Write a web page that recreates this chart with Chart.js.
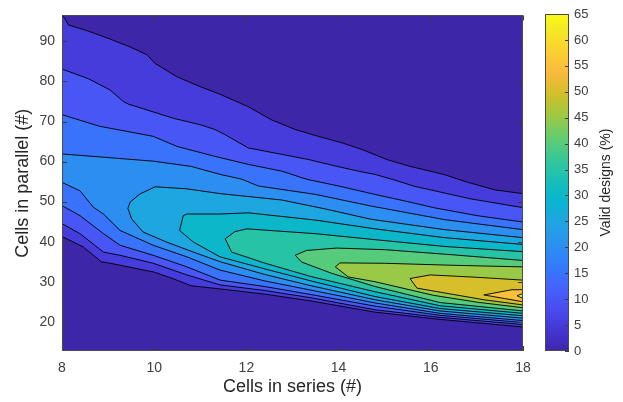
<!DOCTYPE html>
<html>
<head>
<meta charset="utf-8">
<script src="https://cdn.jsdelivr.net/npm/chart.js@4.4.1/dist/chart.umd.min.js"></script>
<style>
  html, body { margin: 0; padding: 0; background: #ffffff; }
  #wrap { position: relative; width: 623px; height: 402px; overflow: hidden; }
  #main { position: absolute; left: 0; top: 0; }
  #cbar { position: absolute; left: 530px; top: 0; }
</style>
</head>
<body>
<div id="wrap">
  <canvas id="main" width="623" height="402"></canvas>
  <canvas id="cbar" width="93" height="402"></canvas>
</div>
<script>
// ---------------- DATA ----------------
const xTicks = [8, 10, 12, 14, 16, 18];
const yTicks = [20, 30, 40, 50, 60, 70, 80, 90];
const colorbarTicks = [0, 5, 10, 15, 20, 25, 30, 35, 40, 45, 50, 55, 60, 65];
const xRange = [8, 18];
const yRange = [12.7, 96.5];
const colorRange = [0, 65];

// contour levels of "Valid designs (%)"
const levels = [5, 10, 15, 20, 25, 30, 35, 40, 45, 50, 55, 60];

// contour lines: [cells in series, cells in parallel]; upper and lower branch of each level
const upper5 = [[7.95,97.2],[8.07,95.6],[8.14,94.1],[8.54,92.7],[9.04,90.6],[9.48,88.6],[9.84,86.7],[10.02,84.5],[10.49,81.2],[11.0,78.7],[11.43,76.8],[12.04,73.7],[12.55,70.4],[13.06,68.0],[13.56,66.3],[14.07,64.7],[14.51,63.0],[15.05,60.5],[15.55,58.8],[16.28,56.8],[16.78,54.9],[17.4,52.9],[18,52.0]];
const lower5 = [[8,41.3],[8.46,38.7],[8.85,35.0],[9.05,34.6],[10.0,32.4],[10.4,30.8],[10.8,29.0],[11.43,28.2],[12.4,26.9],[13.4,25.2],[14.79,22.4],[16.2,20.6],[18,18.7]];

const upper10 = [[8,83.1],[8.57,80.7],[9.04,77.9],[9.33,75.0],[9.45,74.3],[9.76,73.2],[10.42,70.8],[11.0,69.2],[11.32,68.0],[11.54,66.7],[12.04,63.4],[12.77,61.8],[13.35,60.5],[13.93,58.9],[14.43,57.6],[14.79,56.8],[15.27,55.2],[15.62,53.9],[16.86,50.7],[18,48.5]];
const lower10 = [[8,44.5],[8.39,42.0],[8.9,37.4],[9.26,36.6],[9.98,34.6],[10.71,31.7],[11.43,29.2],[12.4,27.8],[13.4,26.0],[14.79,23.0],[16.2,21.1],[18,19.3]];

const upper15 = [[8,71.7],[8.82,68.8],[9.98,66.3],[10.49,63.8],[11.28,61.4],[12.04,59.3],[12.77,57.6],[13.3,55.6],[14.0,53.9],[14.79,51.8],[15.5,50.0],[16.06,48.5],[17,46.5],[18,44.9]];
const lower15 = [[8,49.0],[8.39,46.5],[8.9,42.0],[9.26,39.1],[9.98,36.6],[10.71,33.7],[11.43,30.4],[12.4,28.8],[13.4,26.8],[14.79,23.9],[16.2,21.6],[18,19.8]];

const upper20 = [[8,61.9],[9.0,61.0],[9.98,60.1],[10.8,58.8],[11.43,56.8],[11.9,55.6],[12.26,53.9],[13.5,51.8],[14.7,48.9],[16.3,45.5],[18,43.0]];
const lower20 = [[8,54.8],[8.39,52.7],[8.68,48.6],[8.9,46.9],[9.26,42.8],[9.98,39.1],[10.71,36.2],[11.43,32.9],[12.4,30.2],[13.4,27.9],[14.79,24.7],[16.2,22.1],[18,20.3]];

const upper25 = [[9.43,48.3],[9.48,49.9],[9.69,51.9],[10.02,53.7],[10.7,53.2],[11.43,52.0],[12.77,50.4],[13.7,48.2],[14.7,45.6],[16.3,43.0],[18,41.0]];
const lower25 = [[9.51,45.7],[9.76,42.4],[10.27,39.9],[10.85,37.4],[11.43,35.0],[12.4,31.8],[13.4,29.0],[14.79,25.5],[16.2,22.7],[18,20.9]];

const upper30 = [[10.55,42.8],[10.63,46.5],[10.71,46.9],[11.43,46.9],[12.04,47.2],[13.49,45.4],[14.79,43.2],[16.3,41.0],[18,39.3]];
const lower30 = [[10.85,39.9],[11.43,36.2],[12.4,33.2],[13.4,30.2],[14.79,26.3],[16.2,23.3],[18,21.5]];

const upper35 = [[11.54,40.7],[11.75,42.5],[12.01,43.2],[13.49,42.0],[14.79,40.5],[16.3,38.8],[18,37.5]];
const lower35 = [[11.68,37.4],[12.41,34.6],[13.4,31.3],[14.79,27.5],[16.2,24.0],[18,22.1]];

const upper40 = [[13.06,36.6],[13.3,37.8],[13.96,38.4],[15.0,38.0],[16.5,36.7],[18,35.3]];
const lower40 = [[13.2,34.9],[13.85,32.1],[14.79,28.8],[16.2,24.8],[18,22.7]];

const upper45 = [[13.93,33.7],[14.03,34.7],[15.0,34.6],[16.5,34.1],[18,33.7]];
const lower45 = [[14.21,31.2],[14.79,30.0],[16.06,26.6],[17.0,24.9],[18,23.5]];

const upper50 = [[15.55,30.8],[15.99,31.7],[17.0,31.1],[18,30.4]];
const lower50 = [[15.7,28.4],[16.5,26.8],[17.15,25.5],[18,24.2]];

const upper55 = [[17.15,26.7],[17.76,28.0],[18,28.0]];
const lower55 = [[17.6,25.8],[18,25.0]];

const upper60 = [[17.87,26.5],[18,27.1]];
const lower60 = [[18,25.8]];

// ---------------- STYLE ----------------
Chart.defaults.font.family = "'Liberation Sans', Arial, Helvetica, sans-serif";
const PARULA = [
  [0, [0.2422,0.1504,0.6603]], [4, [0.2706,0.2147,0.8364]], [8, [0.2813,0.3006,0.9414]],
  [12,[0.2699,0.3892,0.9906]], [16,[0.1963,0.4847,0.9892]], [20,[0.1687,0.5703,0.9359]],
  [24,[0.1248,0.6459,0.8883]], [28,[0.0297,0.7082,0.8163]], [32,[0.0964,0.7500,0.7120]],
  [36,[0.2161,0.7843,0.5923]], [40,[0.3909,0.8029,0.4354]], [44,[0.6174,0.7876,0.2612]],
  [48,[0.8203,0.7498,0.1535]], [52,[0.9728,0.7298,0.2394]], [56,[0.9892,0.8136,0.1885]],
  [60,[0.9597,0.9135,0.1423]], [63,[0.9769,0.9839,0.0805]]
];
function parula(t) {
  const p = Math.max(0, Math.min(1, t)) * 63;
  let i = 0;
  while (i < PARULA.length - 2 && PARULA[i + 1][0] < p) i++;
  const [p0, c0] = PARULA[i], [p1, c1] = PARULA[i + 1];
  const f = (p - p0) / (p1 - p0);
  const c = c0.map((v, k) => Math.round(255 * (v + (c1[k] - v) * f)));
  return `rgb(${c[0]},${c[1]},${c[2]})`;
}
const colorOf = v => parula((v - colorRange[0]) / (colorRange[1] - colorRange[0]));

const contourLines = {
  5: [upper5, lower5], 10: [upper10, lower10], 15: [upper15, lower15], 20: [upper20, lower20],
  25: [upper25, lower25], 30: [upper30, lower30], 35: [upper35, lower35], 40: [upper40, lower40],
  45: [upper45, lower45], 50: [upper50, lower50], 55: [upper55, lower55], 60: [upper60, lower60]
};

const OUT_L = 7.6, OUT_R = 18.4;
function region(up, lo) {
  const full = up[0][0] <= 8;
  const pts = [];
  if (full) { pts.push([OUT_L, lo[0][1]]); pts.push([OUT_L, up[0][1]]); }
  up.forEach(p => pts.push(p));
  pts.push([OUT_R, up[up.length - 1][1]]);
  pts.push([OUT_R, lo[lo.length - 1][1]]);
  for (let i = lo.length - 1; i >= 0; i--) pts.push(lo[i]);
  pts.push(full ? [OUT_L, lo[0][1]] : up[0]);
  return pts.map(p => ({ x: p[0], y: p[1] }));
}

const datasets = [];
// highest level first (drawn on top)
for (let k = levels.length - 1; k >= 0; k--) {
  const L = levels[k];
  const [up, lo] = contourLines[L];
  datasets.push({
    data: region(up, lo),
    fill: 'shape',
    backgroundColor: colorOf(L),
    borderColor: 'rgba(0,0,0,0.92)',
    borderWidth: 1,
    borderJoinStyle: 'round',
    pointRadius: 0,
    tension: 0,
    clip: 0
  });
}
// lowest band (0 - 5 %) : whole plot area
datasets.push({
  data: [{x: OUT_L, y: 0}, {x: OUT_R, y: 0}, {x: OUT_R, y: 110}, {x: OUT_L, y: 110}, {x: OUT_L, y: 0}],
  fill: 'shape', backgroundColor: colorOf(0), borderWidth: 0, pointRadius: 0, tension: 0, clip: 0
});

const TICK_COLOR = '#404040';
const frame = {
  id: 'frame',
  afterDatasetsDraw(chart) {
    const { ctx, chartArea: a, scales: { x, y } } = chart;
    ctx.save();
    ctx.strokeStyle = '#3a3a3a';
    ctx.lineWidth = 1;
    ctx.beginPath();
    xTicks.forEach(v => {
      const px = Math.round(x.getPixelForValue(v)) + 0.5;
      ctx.moveTo(px, a.bottom); ctx.lineTo(px, a.bottom - 5);
      ctx.moveTo(px, a.top); ctx.lineTo(px, a.top + 5);
    });
    yTicks.forEach(v => {
      const py = Math.round(y.getPixelForValue(v)) + 0.5;
      ctx.moveTo(a.left, py); ctx.lineTo(a.left + 5, py);
      ctx.moveTo(a.right, py); ctx.lineTo(a.right - 5, py);
    });
    ctx.stroke();
    ctx.strokeStyle = '#4a4a4a';
    ctx.strokeRect(Math.round(a.left) + 0.5, Math.round(a.top) + 0.5,
                   Math.round(a.right - a.left) - 1, Math.round(a.bottom - a.top) - 1);
    ctx.restore();
  }
};

new Chart(document.getElementById('main'), {
  type: 'line',
  data: { datasets },
  plugins: [frame],
  options: {
    responsive: false,
    animation: false,
    events: [],
    devicePixelRatio: 1,
    layout: { padding: { left: 0, top: 13, right: 100, bottom: 0 } },
    plugins: { legend: { display: false }, tooltip: { enabled: false }, filler: { propagate: false } },
    scales: {
      x: {
        type: 'linear', position: 'bottom', min: xRange[0], max: xRange[1],
        afterBuildTicks: s => { s.ticks = xTicks.map(v => ({ value: v })); },
        afterFit: s => { s.height = 51; },
        grid: { display: false, drawTicks: false },
        border: { display: false },
        ticks: { color: TICK_COLOR, font: { size: 14 }, padding: 9, maxRotation: 0, autoSkip: false },
        title: { display: true, text: 'Cells in series (#)', color: '#262626', font: { size: 18 }, padding: { top: 0, bottom: 4 } }
      },
      y: {
        type: 'linear', position: 'left', min: yRange[0], max: yRange[1],
        afterBuildTicks: s => { s.ticks = yTicks.map(v => ({ value: v })); },
        afterFit: s => { s.width = 62; },
        grid: { display: false, drawTicks: false },
        border: { display: false },
        ticks: { color: TICK_COLOR, font: { size: 14 }, padding: 7, autoSkip: false },
        title: { display: true, text: 'Cells in parallel (#)', color: '#262626', font: { size: 18 }, padding: { top: 12, bottom: 0 } }
      }
    }
  }
});

// ---------------- COLORBAR ----------------
const cbarDecor = {
  id: 'cbarDecor',
  afterDraw(chart) {
    const { ctx, chartArea: a, scales: { y } } = chart;
    ctx.save();
    ctx.strokeStyle = '#3a3a3a';
    ctx.lineWidth = 1;
    ctx.beginPath();
    colorbarTicks.forEach(v => {
      const py = Math.round(y.getPixelForValue(v)) + 0.5;
      ctx.moveTo(a.right, py); ctx.lineTo(a.right - 4, py);
    });
    ctx.stroke();
    ctx.strokeStyle = '#4a4a4a';
    ctx.strokeRect(Math.round(a.left) + 0.5, Math.round(a.top) + 0.5,
                   Math.round(a.right - a.left) - 1, Math.round(a.bottom - a.top) - 1);
    ctx.translate(76, (a.top + a.bottom) / 2);
    ctx.rotate(-Math.PI / 2);
    ctx.fillStyle = '#262626';
    ctx.font = "14px 'Liberation Sans', Arial, sans-serif";
    ctx.textAlign = 'center';
    ctx.textBaseline = 'middle';
    ctx.fillText('Valid designs (%)', 0, 0);
    ctx.restore();
  }
};

new Chart(document.getElementById('cbar'), {
  type: 'bar',
  data: {
    labels: [''],
    datasets: [{
      data: [[colorRange[0], colorRange[1]]],
      backgroundColor: ctx => {
        const area = ctx.chart.chartArea;
        if (!area) return colorOf(0);
        const g = ctx.chart.ctx.createLinearGradient(0, area.bottom, 0, area.top);
        for (let k = 0; k <= 40; k++) g.addColorStop(k / 40, parula(k / 40));
        return g;
      },
      borderWidth: 0,
      barPercentage: 1,
      categoryPercentage: 1
    }]
  },
  plugins: [cbarDecor],
  options: {
    responsive: false,
    animation: false,
    events: [],
    devicePixelRatio: 1,
    layout: { padding: { left: 15, top: 14, right: 0, bottom: 51 } },
    plugins: { legend: { display: false }, tooltip: { enabled: false } },
    scales: {
      x: { display: false },
      y: {
        position: 'right', min: colorRange[0], max: colorRange[1],
        afterBuildTicks: s => { s.ticks = colorbarTicks.map(v => ({ value: v })); },
        afterFit: s => { s.width = 54; },
        grid: { display: false, drawTicks: false },
        border: { display: false },
        ticks: { color: TICK_COLOR, font: { size: 13 }, padding: 5, autoSkip: false }
      }
    }
  }
});
</script>
</body>
</html>
